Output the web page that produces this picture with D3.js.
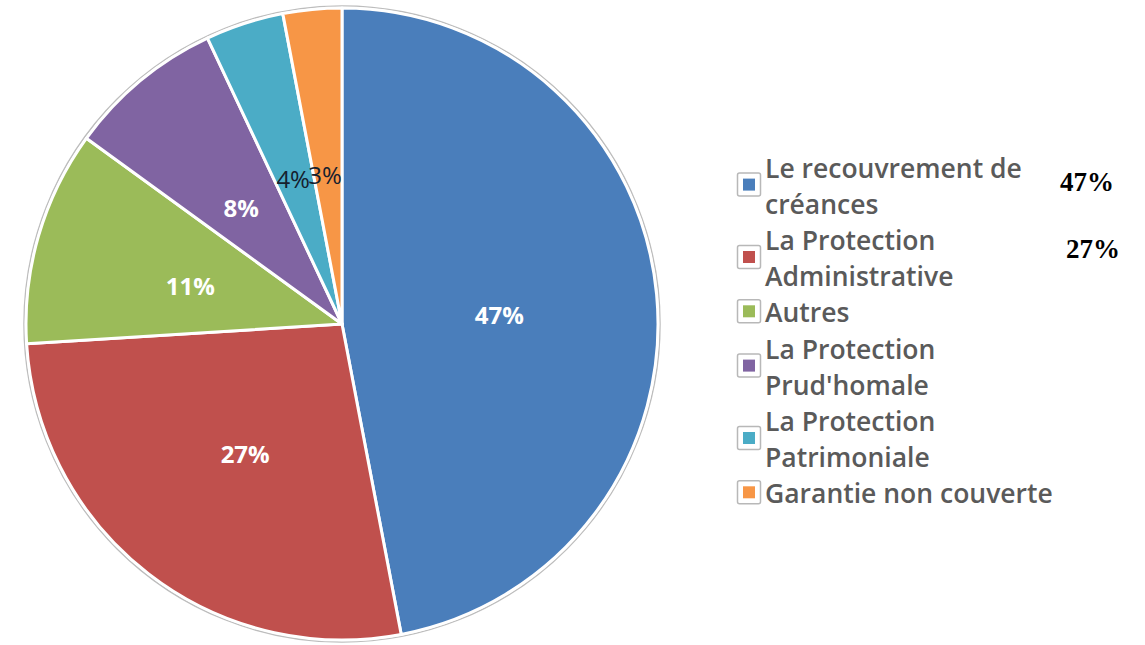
<!DOCTYPE html>
<html>
<head>
<meta charset="utf-8">
<script src="https://cdn.jsdelivr.net/npm/d3@7"></script>
<style>
  body { margin: 0; background: #fff; }
</style>
</head>
<body>
<div id="chart"></div>
<script>
const categories = [
  "Le recouvrement de créances",
  "La Protection Administrative",
  "Autres",
  "La Protection Prud'homale",
  "La Protection Patrimoniale",
  "Garantie non couverte"
];
const values = [47, 27, 11, 8, 4, 3];
const colors = ["#4a7ebb", "#c0504d", "#9bbb59", "#8064a2", "#4bacc6", "#f79646"];
// side notes printed next to the first two legend entries
const sideNotes = ["47%", "27%"];

const width = 1145;
const height = 645;
const cx = 342, cy = 324, radius = 316;

const svg = d3.select("#chart")
  .append("svg")
  .attr("width", width)
  .attr("height", height);

const pie = d3.pie()
  .value(d => d)
  .sort(null);

const arcs = pie(values);
const arc = d3.arc().innerRadius(0).outerRadius(radius);
const labelArc = d3.arc().innerRadius(158).outerRadius(158);

// the 3% label sits a bit lower, next to the 4% one
const nudge = { 5: [-2, 3] };

const g = svg.append("g").attr("transform", `translate(${cx},${cy})`);

// thin grey ring round the pie
g.append("circle")
  .attr("r", radius + 2)
  .attr("fill", "none")
  .attr("stroke", "#bdbdbd")
  .attr("stroke-width", 1.5);

g.selectAll("path.slice")
  .data(arcs)
  .join("path")
  .attr("class", "slice")
  .attr("d", arc)
  .attr("fill", (d, i) => colors[i])
  .attr("stroke", "#fff")
  .attr("stroke-width", 3)
  .attr("stroke-linejoin", "round");

g.selectAll("text.val")
  .data(arcs)
  .join("text")
  .attr("class", "val")
  .attr("transform", (d, i) => {
    const [x, y] = labelArc.centroid(d);
    const n = nudge[i] || [0, 0];
    return `translate(${x + n[0]},${y + 6 + n[1]})`;
  })
  .attr("text-anchor", "middle")
  .attr("dy", "0.36em")
  .style("font-family", "'Open Sans', sans-serif")
  .style("font-size", "24px")
  .style("font-weight", d => d.data >= 5 ? "700" : "400")
  .attr("fill", d => d.data >= 5 ? "#fff" : "#15202e")
  .text(d => d.data + "%");

// legend
const legendX = 737;
const textX = 765;
const lineH = 36.2;
const firstLine = 168;
const wrapWidth = 300;

const legend = svg.append("g");
let lineIdx = 0;

categories.forEach((name, i) => {
  const words = name.split(" ");
  const t = legend.append("text")
    .attr("x", textX)
    .style("font-family", "'Open Sans', sans-serif")
    .style("font-size", "26.5px")
    .style("font-weight", "600")
    .attr("fill", "#5a5a5a");

  // simple word wrap
  const lines = [];
  let current = [];
  const probe = t.append("tspan");
  words.forEach(w => {
    const attempt = current.concat(w).join(" ");
    probe.text(attempt);
    if (probe.node().getComputedTextLength() > wrapWidth && current.length) {
      lines.push(current.join(" "));
      current = [w];
    } else {
      current.push(w);
    }
  });
  lines.push(current.join(" "));
  probe.remove();

  const startLine = lineIdx;
  lines.forEach(line => {
    t.append("tspan")
      .attr("x", textX)
      .attr("y", firstLine + lineIdx * lineH)
      .attr("dy", "0.36em")
      .text(line);
    lineIdx++;
  });

  const midY = firstLine + (startLine + (lines.length - 1) / 2) * lineH - 1.5;

  legend.append("rect")
    .attr("x", legendX + 0.5)
    .attr("y", midY - 11.5)
    .attr("width", 23)
    .attr("height", 23)
    .attr("rx", 2)
    .attr("fill", "#fff")
    .attr("stroke", "#b8b8b8")
    .attr("stroke-width", 1.5);

  legend.append("rect")
    .attr("x", legendX + 6)
    .attr("y", midY - 6)
    .attr("width", 12)
    .attr("height", 12)
    .attr("fill", colors[i]);
});

svg.selectAll("text.note")
  .data(sideNotes)
  .join("text")
  .attr("class", "note")
  .attr("x", (d, i) => i === 0 ? 1060 : 1066)
  .attr("y", (d, i) => i === 0 ? 182 : 249)
  .attr("dy", "0.35em")
  .style("font-family", "'Liberation Serif', 'Times New Roman', serif")
  .style("font-size", "27px")
  .style("font-weight", "700")
  .attr("fill", "#000")
  .text(d => d);
</script>
</body>
</html>
